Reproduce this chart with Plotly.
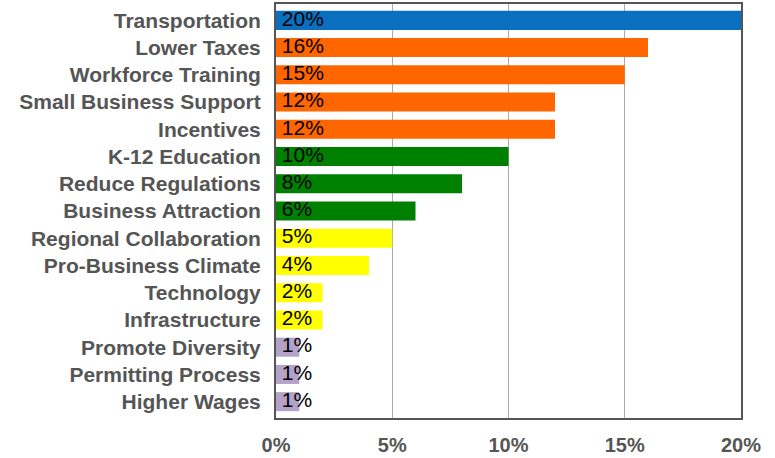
import plotly.graph_objects as go

categories = ["Transportation", "Lower Taxes", "Workforce Training", "Small Business Support",
              "Incentives", "K-12 Education", "Reduce Regulations", "Business Attraction",
              "Regional Collaboration", "Pro-Business Climate", "Technology", "Infrastructure",
              "Promote Diversity", "Permitting Process", "Higher Wages"]
values = [20, 16, 15, 12, 12, 10, 8, 6, 5, 4, 2, 2, 1, 1, 1]
labels = ["20%", "16%", "15%", "12%", "12%", "10%", "8%", "6%", "5%", "4%", "2%", "2%", "1%", "1%", "1%"]
colors = ["#0a6fbf", "#ff6600", "#ff6600", "#ff6600", "#ff6600", "#008000", "#008000", "#008000",
          "#ffff00", "#ffff00", "#ffff00", "#ffff00", "#b3a3c9", "#b3a3c9", "#b3a3c9"]
tick_vals = [0, 5, 10, 15, 20]
tick_text = ["0%", "5%", "10%", "15%", "20%"]

FONT = "Liberation Sans, Arial, Helvetica, sans-serif"

fig = go.Figure()
fig.add_trace(go.Bar(
    y=categories, x=values, orientation="h",
    marker=dict(color=colors, line=dict(width=0)),
    hoverinfo="skip",
))
fig.add_trace(go.Scatter(
    y=categories, x=[0] * len(categories), mode="text",
    text=[" " + t for t in labels], textposition="middle right",
    textfont=dict(family=FONT, size=21, color="#000000"),
    hoverinfo="skip", cliponaxis=False,
))

fig.update_layout(
    width=775, height=458,
    margin=dict(l=276, r=34, t=4, b=40, autoexpand=False),
    paper_bgcolor="white", plot_bgcolor="white",
    showlegend=False, bargap=0.3,
    font=dict(family=FONT),
)
fig.update_xaxes(
    range=[0, 20], tickvals=tick_vals, ticktext=tick_text,
    showgrid=True, gridcolor="#aaaaaa", gridwidth=1,
    showline=True, linecolor="#555555", linewidth=2, mirror=True,
    zeroline=False, ticks="", automargin=False, ticklabelstandoff=8,
    tickfont=dict(size=20, color="#555555", family=FONT, weight="bold"),
)
fig.update_yaxes(
    categoryorder="array", categoryarray=categories,
    showline=True, linecolor="#555555", linewidth=2, mirror=True,
    ticks="", ticklabelstandoff=9, automargin=False,
    tickfont=dict(size=21, color="#555555", family=FONT, weight="bold"),
    range=[14.6, -0.6],
)
fig.write_html("out.html", config={"displayModeBar": False},
               post_script="document.body.style.margin='0';")
